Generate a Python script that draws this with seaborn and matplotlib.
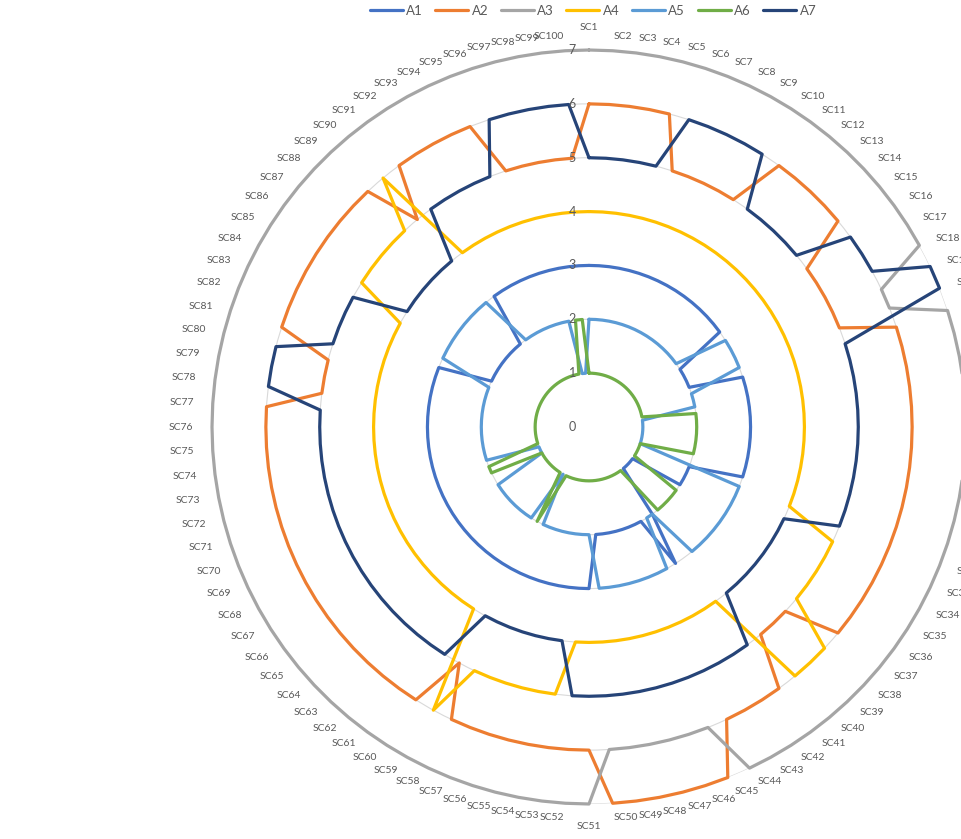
import numpy as np
import pandas as pd
import matplotlib
matplotlib.use("Agg")
import matplotlib.pyplot as plt
from matplotlib.lines import Line2D
import seaborn as sns

# categories SC1..SC100 around the radar, clockwise from the top
categories = ["SC%d" % i for i in range(1, 101)]
series_names = ["A1", "A2", "A3", "A4", "A5", "A6", "A7"]
colors = ["#4472C4", "#ED7D31", "#A5A5A5", "#FFC000", "#5B9BD5", "#70AD47", "#264478"]
value_ticks = [0, 1, 2, 3, 4, 5, 6, 7]

# values, SC1..SC100
a1 = [3, 3, 3, 3, 3, 3, 3, 3, 3, 3,  3, 3, 3, 3, 3, 3, 2, 2, 2, 2,
      3, 3, 3, 3, 3, 3, 3, 3, 3, 3,  3, 2, 2, 2, 2, 1, 1, 1, 1, 1,
      2, 3, 2, 2, 2, 2, 2, 2, 2, 2,  3, 3, 3, 3, 3, 3, 3, 3, 3, 3,
      3, 3, 3, 3, 3, 3, 3, 3, 3, 3,  3, 3, 3, 3, 3, 3, 3, 3, 3, 3,
      3, 3, 2, 2, 2, 2, 2, 2, 2, 2,  3, 3, 3, 3, 3, 3, 3, 3, 3, 3]
a2 = [6, 6, 6, 6, 6, 5, 5, 5, 5, 5,  6, 6, 6, 6, 6, 5, 5, 5, 5, 5,
      6, 6, 6, 6, 6, 6, 6, 6, 6, 6,  6, 6, 6, 6, 6, 6, 6, 5, 5, 5,
      6, 6, 6, 6, 7, 7, 7, 7, 7, 7,  6, 6, 6, 6, 6, 6, 6, 6, 5, 6,
      6, 6, 6, 6, 6, 6, 6, 6, 6, 6,  6, 6, 6, 6, 6, 6, 6, 5, 5, 5,
      6, 6, 6, 6, 6, 6, 6, 6, 6, 5,  6, 6, 6, 6, 6, 5, 5, 5, 5, 5]
a3 = [7, 7, 7, 7, 7, 7, 7, 7, 7, 7,  7, 7, 7, 7, 7, 7, 7, 7, 6, 6,
      7, 7, 7, 7, 7, 7, 7, 7, 7, 7,  7, 7, 7, 7, 7, 7, 7, 7, 7, 7,
      7, 7, 7, 7, 6, 6, 6, 6, 6, 6,  7, 7, 7, 7, 7, 7, 7, 7, 7, 7,
      7, 7, 7, 7, 7, 7, 7, 7, 7, 7,  7, 7, 7, 7, 7, 7, 7, 7, 7, 7,
      7, 7, 7, 7, 7, 7, 7, 7, 7, 7,  7, 7, 7, 7, 7, 7, 7, 7, 7, 7]
a4 = [4, 4, 4, 4, 4, 4, 4, 4, 4, 4,  4, 4, 4, 4, 4, 4, 4, 4, 4, 4,
      4, 4, 4, 4, 4, 4, 4, 4, 4, 4,  4, 4, 5, 5, 5, 5, 5, 6, 6, 6,
      4, 4, 4, 4, 4, 4, 4, 4, 4, 4,  4, 4, 5, 5, 5, 5, 5, 5, 6, 4,
      4, 4, 4, 4, 4, 4, 4, 4, 4, 4,  4, 4, 4, 4, 4, 4, 4, 4, 4, 4,
      4, 4, 4, 4, 5, 5, 5, 5, 5, 6,  4, 4, 4, 4, 4, 4, 4, 4, 4, 4]
a5 = [2, 2, 2, 2, 2, 2, 2, 2, 2, 2,  2, 2, 2, 2, 2, 2, 3, 3, 3, 3,
      2, 2, 2, 1, 1, 1, 1, 1, 1, 1,  1, 3, 3, 3, 3, 3, 3, 3, 3, 3,
      2, 2, 3, 3, 3, 3, 3, 3, 3, 3,  2, 2, 2, 2, 2, 2, 2, 2, 1, 2,
      2, 2, 2, 2, 2, 2, 2, 1, 1, 1,  2, 2, 2, 2, 2, 2, 2, 2, 2, 2,
      2, 2, 3, 3, 3, 3, 3, 3, 3, 3,  2, 2, 2, 2, 2, 2, 2, 2, 1, 1]
a6 = [1, 1, 1, 1, 1, 1, 1, 1, 1, 1,  1, 1, 1, 1, 1, 1, 1, 1, 1, 1,
      1, 1, 1, 2, 2, 2, 2, 2, 2, 2,  1, 1, 1, 1, 1, 2, 2, 2, 2, 2,
      1, 1, 1, 1, 1, 1, 1, 1, 1, 1,  1, 1, 1, 1, 1, 1, 1, 1, 2, 1,
      1, 1, 1, 1, 1, 1, 1, 1, 2, 2,  1, 1, 1, 1, 1, 1, 1, 1, 1, 1,
      1, 1, 1, 1, 1, 1, 1, 1, 1, 1,  1, 1, 1, 1, 1, 1, 1, 1, 2, 2]
a7 = [5, 5, 5, 5, 5, 6, 6, 6, 6, 6,  5, 5, 5, 5, 5, 6, 6, 6, 7, 7,
      5, 5, 5, 5, 5, 5, 5, 5, 5, 5,  5, 5, 4, 4, 4, 4, 4, 4, 4, 4,
      5, 5, 5, 5, 5, 5, 5, 5, 5, 5,  5, 5, 4, 4, 4, 4, 4, 4, 4, 5,
      5, 5, 5, 5, 5, 5, 5, 5, 5, 5,  5, 5, 5, 5, 5, 5, 5, 6, 6, 6,
      5, 5, 5, 5, 4, 4, 4, 4, 4, 4,  5, 5, 5, 5, 5, 6, 6, 6, 6, 6]
series_values = [a1, a2, a3, a4, a5, a6, a7]

sns.set_style("white")
plt.rcParams["font.family"] = ["Lato", "DejaVu Sans"]

W, H = 961, 839
fig = plt.figure(figsize=(W / 100, H / 100), dpi=100)
fig.patch.set_facecolor("white")

# plot centre and radius of the "7" ring in pixels (chart is cut off on the right)
cx, cy, rad = 589, 427, 377
ax = fig.add_axes([(cx - rad) / W, (H - cy - rad) / H, 2 * rad / W, 2 * rad / H],
                  projection="polar")
ax.set_theta_zero_location("N")
ax.set_theta_direction(-1)
ax.patch.set_alpha(0)

n = len(categories)
angles = [i * 2 * np.pi / n for i in range(n)] + [2 * np.pi]
frames = []
for name, vals in zip(series_names, series_values):
    frames.append(pd.DataFrame({"theta": angles,
                                "value": list(vals) + [vals[0]],
                                "series": name}))
df = pd.concat(frames, ignore_index=True)

sns.lineplot(data=df, x="theta", y="value", hue="series", palette=colors,
             sort=False, estimator=None, linewidth=2.3, legend=False,
             ax=ax, clip_on=False)

ax.set_ylim(0, 7)
ax.set_yticks(value_ticks[1:])
ax.set_yticklabels([])
ax.yaxis.grid(True, color="#D9D9D9", linewidth=0.8)
ax.set_xticks([])
ax.spines["polar"].set_visible(False)
ax.set_xlabel("")
ax.set_ylabel("")

# value labels, just left of the vertical axis
for v in value_ticks:
    ax.annotate(str(v), xy=(0, v), xytext=(-13, 0), textcoords="offset pixels",
                ha="right", va="center", fontsize=9, color="#595959")

# category labels outside the outer ring
for t, lab in zip(angles[:-1], categories):
    s, c = np.sin(t), np.cos(t)
    if abs(s) < 0.01:
        ax.annotate(lab, xy=(t, 7), xytext=(0, 18 * np.sign(c)), textcoords="offset pixels",
                    ha="center", va="bottom" if c > 0 else "top",
                    fontsize=7.5, color="#595959", annotation_clip=False)
    else:
        ax.annotate(lab, xy=(t, 7), xytext=(18.5 * s, 14.5 * c), textcoords="offset pixels",
                    ha="left" if s > 0 else "right", va="center",
                    fontsize=7.5, color="#595959", annotation_clip=False)

handles = [Line2D([0], [0], color=col, lw=2.3) for col in colors]
leg = fig.legend(handles, series_names, loc="center", bbox_to_anchor=(593 / W, 1 - 11 / H),
                 ncol=7, frameon=False, fontsize=9.5, handlelength=2.5,
                 handletextpad=0.25, columnspacing=0.95)
for txt in leg.get_texts():
    txt.set_color("#595959")

fig.savefig("out.png", dpi=100)
